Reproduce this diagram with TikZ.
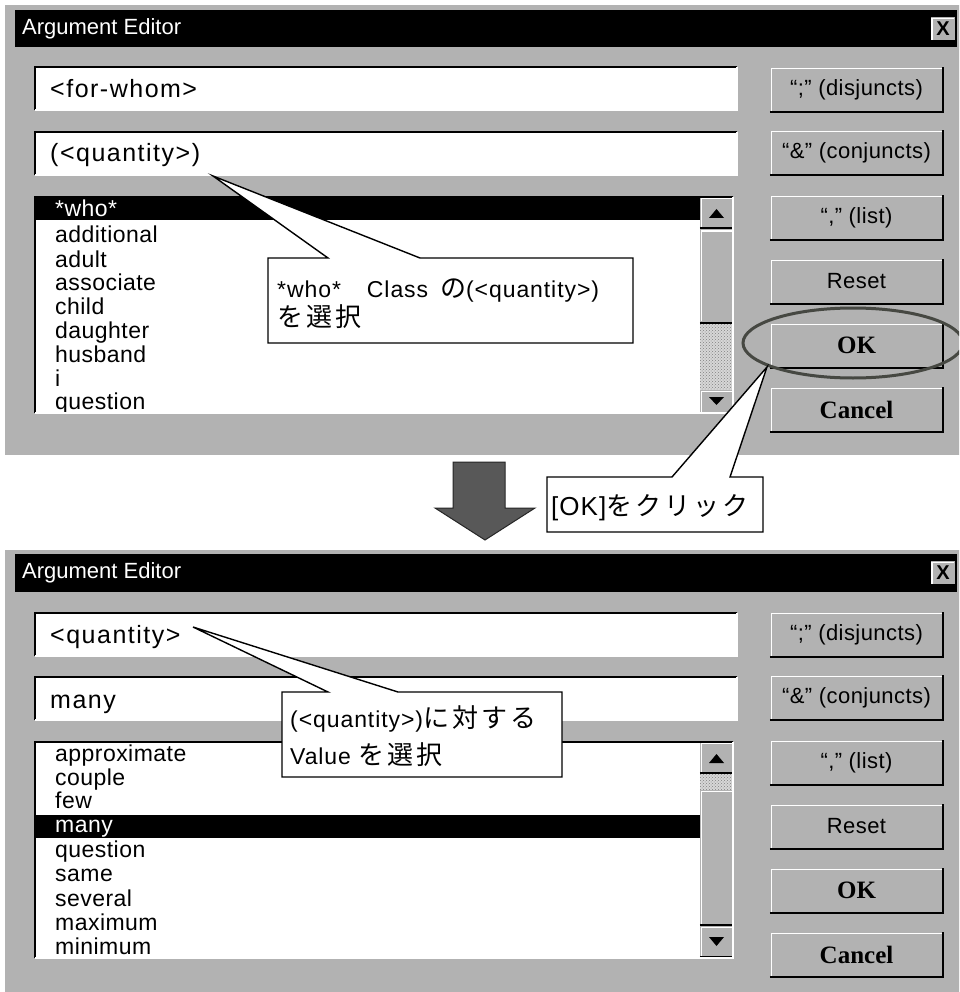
\documentclass[tikz,border=0pt]{standalone}
\usepackage{fontspec}
\setmainfont{Liberation Sans}
\newfontfamily\uifont[LetterSpace=6]{Liberation Sans}
\newfontfamily\listfont[LetterSpace=2]{Liberation Sans}
\newfontfamily\notefont[LetterSpace=4]{Liberation Sans}
\newfontfamily\jpfont[LetterSpace=12]{Noto Sans CJK JP}
\newfontfamily\serifbtn{Liberation Serif}
\usetikzlibrary{patterns}

\definecolor{face}{RGB}{178,178,178}
\definecolor{track}{RGB}{215,215,215}
\definecolor{arrowfill}{RGB}{88,88,88}
\definecolor{ringcol}{RGB}{70,72,66}

% Latin and Japanese runs inside a note
\newcommand\lat[1]{{\notefont\fontsize{23}{23}\selectfont #1}}
\newcommand\jp[1]{{\jpfont\fontsize{26}{26}\selectfont #1}}

% raised 3D edge of a button
\newcommand\raisededge[1]{%
  \draw[white,line width=1.5pt] ([shift={(1.5pt,1.5pt)}]#1.south west) |- ([shift={(-1.5pt,-1.5pt)}]#1.north east);
  \draw[black,line width=2pt] (#1.south west) -| (#1.north east);}
% sunken 3D edge of a field
\newcommand\sunkenedge[1]{%
  \draw[black,line width=2pt] (#1.south west) |- (#1.north east);
  \draw[white,line width=1.5pt] (#1.south west) -| (#1.north east);}

\begin{document}
\begin{tikzpicture}[x=1pt,y=-1pt,
  winbody/.style={fill=face},
  titlebar/.style={fill=black},
  titletext/.style={anchor=west,text=white,font=\fontsize{22}{22}\selectfont,inner sep=0},
  field/.style={fill=white,minimum width=702,minimum height=43,inner sep=0},
  fieldtext/.style={anchor=base west,font=\uifont\fontsize{25}{25}\selectfont,inner sep=0},
  listbox/.style={fill=white,minimum width=698,minimum height=216,inner sep=0},
  item/.style={anchor=base west,font=\listfont\fontsize{23}{23}\selectfont,inner sep=0},
  selitem/.style={item,text=white},
  btn/.style={fill=face,minimum width=173,minimum height=45,inner sep=0,font=\listfont\fontsize{22}{22}\selectfont},
  btnbold/.style={btn,font=\serifbtn\bfseries\fontsize{25}{25}\selectfont},
  sbtn/.style={fill=face,minimum width=33,minimum height=31,inner sep=0},
  callout/.style={fill=white,draw=black,line width=1.4pt,line join=miter},
  callouttext/.style={anchor=base west,inner sep=0},
  ring/.style={draw=ringcol,line width=3pt},
  bigarrow/.style={fill=arrowfill,draw=black!85,line width=1pt}
]
\useasboundingbox (0,0) rectangle (959,992);
\clip (0,0) rectangle (959,992);
\fill[white] (0,0) rectangle (959,992);

% ================= first window =================
\fill[winbody] (5,5) rectangle (962,455);
\fill[titlebar] (15,10) rectangle (957,47);
\node[titletext] (t1) at (22,29) {Argument Editor};
\node[fill=face,minimum width=25,minimum height=24,inner sep=0,font=\bfseries\fontsize{20}{20}\selectfont] (x1) at (943,29) {X};
\raisededge{x1}

\node[field] (f1a) at (386,88.5) {};
\sunkenedge{f1a}
\node[fieldtext] (f1atext) at (50,98) {<for-whom>};
\node[field] (f1b) at (386,153.5) {};
\sunkenedge{f1b}
\node[fieldtext] (f1btext) at (50,162) {(<quantity>)};

\node[listbox] (l1) at (384,305) {};
\fill[black] (35,197) rectangle (700,220);
\node[selitem] (l1i0) at (55,217) {*who*};
\node[item] (l1i1) at (55,243) {additional};
\node[item] (l1i2) at (55,267) {adult};
\node[item] (l1i3) at (55,290) {associate};
\node[item] (l1i4) at (55,314) {child};
\node[item] (l1i5) at (55,338) {daughter};
\node[item] (l1i6) at (55,362) {husband};
\node[item] (l1i7) at (55,386) {i};
\node[item] (l1i8) at (55,409) {question};
% scroll bar
\fill[track] (700,197) rectangle (733,413);
\fill[pattern=crosshatch dots,pattern color=gray] (700,323) rectangle (733,390);
\node[sbtn] (s1up) at (716.5,212.5) {};
\raisededge{s1up}
\fill[black] (709,218) -- (724,218) -- (716.5,209) -- cycle;
\node[fill=face,minimum width=33,minimum height=93,inner sep=0] (s1thumb) at (716.5,276) {};
\raisededge{s1thumb}
\node[fill=face,minimum width=33,minimum height=23,inner sep=0] (s1dn) at (716.5,401.5) {};
\raisededge{s1dn}
\fill[black] (709,397) -- (724,397) -- (716.5,405) -- cycle;
\sunkenedge{l1}

% buttons
\node[btn] (b1a) at (856.5,89.5) {“;” (disjuncts)};
\raisededge{b1a}
\node[btn] (b1b) at (856.5,152.5) {“\&” (conjuncts)};
\raisededge{b1b}
\node[btn] (b1c) at (856.5,217.5) {“,” (list)};
\raisededge{b1c}
\node[btn] (b1d) at (856.5,281.5) {Reset};
\raisededge{b1d}
\node[btnbold] (b1e) at (856.5,345.5) {OK};
\raisededge{b1e}
\node[btnbold] (b1f) at (856.5,409.5) {Cancel};
\raisededge{b1f}

% ring around OK
\draw[ring] (853,343) ellipse [x radius=110pt, y radius=35pt];

% ================= second window =================
\fill[winbody] (5,550) rectangle (962,1000);
\fill[titlebar] (15,554) rectangle (957,592);
\node[titletext] (t2) at (22,573) {Argument Editor};
\node[fill=face,minimum width=25,minimum height=24,inner sep=0,font=\bfseries\fontsize{20}{20}\selectfont] (x2) at (943,573) {X};
\raisededge{x2}

\node[field] (f2a) at (386,634.5) {};
\sunkenedge{f2a}
\node[fieldtext] (f2atext) at (50,643) {<quantity>};
\node[field] (f2b) at (386,698.5) {};
\sunkenedge{f2b}
\node[fieldtext] (f2btext) at (50,708) {many};

\node[listbox] (l2) at (384,850) {};
\fill[black] (35,815) rectangle (700,838);
\node[item] (l2i0) at (55,761) {approximate};
\node[item] (l2i1) at (55,785) {couple};
\node[item] (l2i2) at (55,808) {few};
\node[selitem] (l2i3) at (55,832) {many};
\node[item] (l2i4) at (55,857) {question};
\node[item] (l2i5) at (55,881) {same};
\node[item] (l2i6) at (55,906) {several};
\node[item] (l2i7) at (55,930) {maximum};
\node[item] (l2i8) at (55,954) {minimum};
% scroll bar
\fill[track] (700,742) rectangle (733,958);
\fill[pattern=crosshatch dots,pattern color=gray] (700,773) rectangle (733,790);
\node[sbtn] (s2up) at (716.5,757.5) {};
\raisededge{s2up}
\fill[black] (709,763) -- (724,763) -- (716.5,754) -- cycle;
\node[fill=face,minimum width=33,minimum height=135,inner sep=0] (s2thumb) at (716.5,857.5) {};
\raisededge{s2thumb}
\node[sbtn] (s2dn) at (716.5,941.5) {};
\raisededge{s2dn}
\fill[black] (709,937) -- (724,937) -- (716.5,946) -- cycle;
\sunkenedge{l2}

% buttons
\node[btn] (b2a) at (856.5,634.5) {“;” (disjuncts)};
\raisededge{b2a}
\node[btn] (b2b) at (856.5,697.5) {“\&” (conjuncts)};
\raisededge{b2b}
\node[btn] (b2c) at (856.5,762.5) {“,” (list)};
\raisededge{b2c}
\node[btn] (b2d) at (856.5,826.5) {Reset};
\raisededge{b2d}
\node[btnbold] (b2e) at (856.5,890.5) {OK};
\raisededge{b2e}
\node[btnbold] (b2f) at (856.5,954.5) {Cancel};
\raisededge{b2f}

% ================= transition arrow =================
\draw[bigarrow] (453,462) -- (505,462) -- (505,508) -- (535,508) -- (485,540)
  -- (435,508) -- (453,508) -- cycle;

% ================= callouts =================
\coordinate (tip1) at (213,176);
\draw[callout] (268,258) -- (328,258) -- (tip1) -- (420,258) -- (633,258)
  -- (633,343) -- (268,343) -- cycle;
\node[callouttext] (c1a) at (277,297) {\lat{*who*\hspace{26pt}Class\hspace{12pt}}\jp{の}\lat{(<quantity>)}};
\node[callouttext] (c1b) at (277,326) {\jp{を選択}};

\coordinate (tip2) at (767,367);
\draw[callout] (547,477) -- (672,477) -- (tip2) -- (730,477) -- (763,477)
  -- (763,532) -- (547,532) -- cycle;
\node[callouttext] (c2) at (551,515) {{\notefont\fontsize{26}{26}\selectfont [OK]}\jp{をクリック}};

\coordinate (tip3) at (193,627);
\draw[callout] (282,692) -- (328,692) -- (tip3) -- (398,692) -- (562,692)
  -- (562,777) -- (282,777) -- cycle;
\node[callouttext] (c3a) at (290,727) {\lat{(<quantity>)}\jp{に対する}};
\node[callouttext] (c3b) at (290,764) {\lat{Value }\jp{を選択}};
\end{tikzpicture}
\end{document}
